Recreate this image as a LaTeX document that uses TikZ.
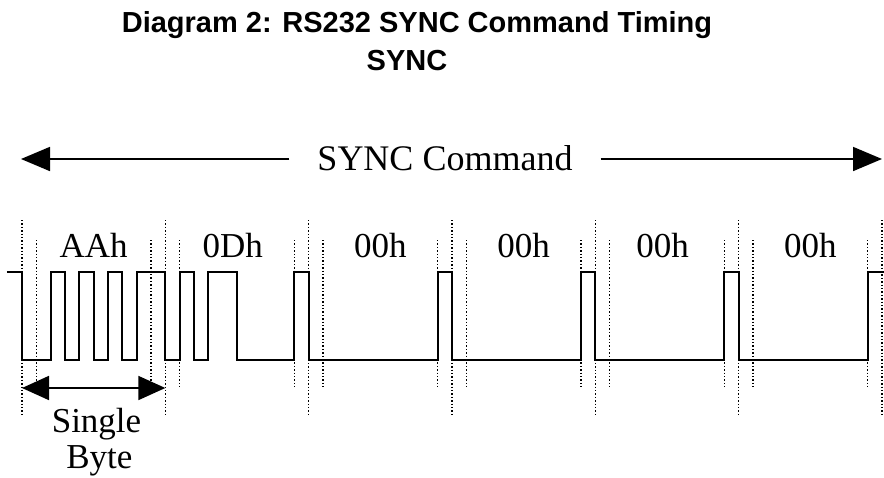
\documentclass[tikz,border=0pt]{standalone}
\usepackage{fontspec}
\setmainfont{Liberation Serif}
\newfontfamily\titlefont{Liberation Sans}
\usetikzlibrary{arrows.meta}

\begin{document}
\begin{tikzpicture}[x=1pt,y=-1pt,
	signal/.style={line width=1.8pt, line join=miter},
	bitgrid/.style={line width=1.3pt, dash pattern=on 1.3pt off 2.1pt},
	bigarrow/.style={line width=1.8pt, -{Triangle[length=29pt,width=24pt]}},
	bytearrow/.style={line width=1.8pt, {Triangle[length=27pt,width=24pt]}-{Triangle[length=27pt,width=24pt]}},
	bytelabel/.style={font=\fontsize{35}{38}\selectfont, anchor=base, inner sep=0pt},
	titletext/.style={font=\titlefont\bfseries\fontsize{29}{31}\selectfont, anchor=base, inner sep=0pt}]
	%Define the coordinates (in pixels, y downwards)
	%Bit n runs from \xo+n*\bw to \xo+(n+1)*\bw, one byte is 10 bits
	\pgfmathsetmacro{\xo}{22}
	\pgfmathsetmacro{\bw}{14.333}
	\pgfmathsetmacro{\hi}{272}
	\pgfmathsetmacro{\lo}{360}
	%Dotted marks: long ones at byte edges, short ones at start/stop bits
	\pgfmathsetmacro{\ltop}{220}
	\pgfmathsetmacro{\lbot}{417}
	\pgfmathsetmacro{\mtop}{240}
	\pgfmathsetmacro{\mbot}{387}

	\useasboundingbox (0,0) rectangle (884,477);

	%Title
	\node[titletext] (title) at (417,32) {Diagram 2: RS232 SYNC Command Timing};
	\node[titletext] (subtitle) at (407,70) {SYNC};

	%SYNC Command arrow
	\node[bytelabel, font=\fontsize{36}{38}\selectfont, inner xsep=28pt] (cmd) at (445,170) {SYNC Command};
	\coordinate (cmdleft) at (21,159);
	\coordinate (cmdright) at (882,159);
	\draw[bigarrow] (cmd.west |- cmdleft) -- (cmdleft);
	\draw[bigarrow] (cmd.east |- cmdright) -- (cmdright);

	\begin{scope}[xshift=\xo pt, x=\bw pt]
	%Byte edges
	\draw[bitgrid] (0,\ltop) -- (0,\lbot) (10,\ltop) -- (10,\lbot) (20,\ltop) -- (20,\lbot)
		(30,\ltop) -- (30,\lbot) (40,\ltop) -- (40,\lbot) (50,\ltop) -- (50,\lbot) (60,\ltop) -- (60,\lbot);
	%Start and stop bits
	\draw[bitgrid] (1,\mtop) -- (1,\mbot) (9,\mtop) -- (9,\mbot) (11,\mtop) -- (11,\mbot)
		(19,\mtop) -- (19,\mbot) (21,\mtop) -- (21,\mbot) (29,\mtop) -- (29,\mbot)
		(31,\mtop) -- (31,\mbot) (39,\mtop) -- (39,\mbot) (41,\mtop) -- (41,\mbot)
		(49,\mtop) -- (49,\mbot) (51,\mtop) -- (51,\mbot) (59,\mtop) -- (59,\mbot);

	%The line: AAh, 0Dh, then four times 00h (LSB first)
	\draw[signal] (-1.05,\hi) -- (0,\hi) -- (0,\lo) -- (2,\lo) -- (2,\hi) -- (3,\hi) -- (3,\lo)
		-- (4,\lo) -- (4,\hi) -- (5,\hi) -- (5,\lo) -- (6,\lo) -- (6,\hi) -- (7,\hi) -- (7,\lo)
		-- (8,\lo) -- (8,\hi) -- (10,\hi) -- (10,\lo) -- (11,\lo) -- (11,\hi) -- (12,\hi) -- (12,\lo)
		-- (13,\lo) -- (13,\hi) -- (15,\hi) -- (15,\lo) -- (19,\lo) -- (19,\hi) -- (20,\hi) -- (20,\lo)
		-- (29,\lo) -- (29,\hi) -- (30,\hi) -- (30,\lo) -- (39,\lo) -- (39,\hi) -- (40,\hi) -- (40,\lo)
		-- (49,\lo) -- (49,\hi) -- (50,\hi) -- (50,\lo) -- (59,\lo) -- (59,\hi) -- (60.14,\hi);

	%Byte values
	\node[bytelabel] (aah) at (5,257) {AAh};
	\node[bytelabel] (odh) at (14.7,257) {0Dh};
	\node[bytelabel] (ooh1) at (25,257) {00h};
	\node[bytelabel] (ooh2) at (35,257) {00h};
	\node[bytelabel] (ooh3) at (44.7,257) {00h};
	\node[bytelabel] (ooh4) at (55,257) {00h};

	%Single byte
	\coordinate (bytestart) at (0,388);
	\coordinate (byteend) at (10,388);
	\draw[bytearrow] (bytestart) -- (byteend);
	\node[bytelabel] (single) at (5.2,432) {Single};
	\node[bytelabel] (byte) at (5.4,468) {Byte};
	\end{scope}
\end{tikzpicture}
\end{document}
